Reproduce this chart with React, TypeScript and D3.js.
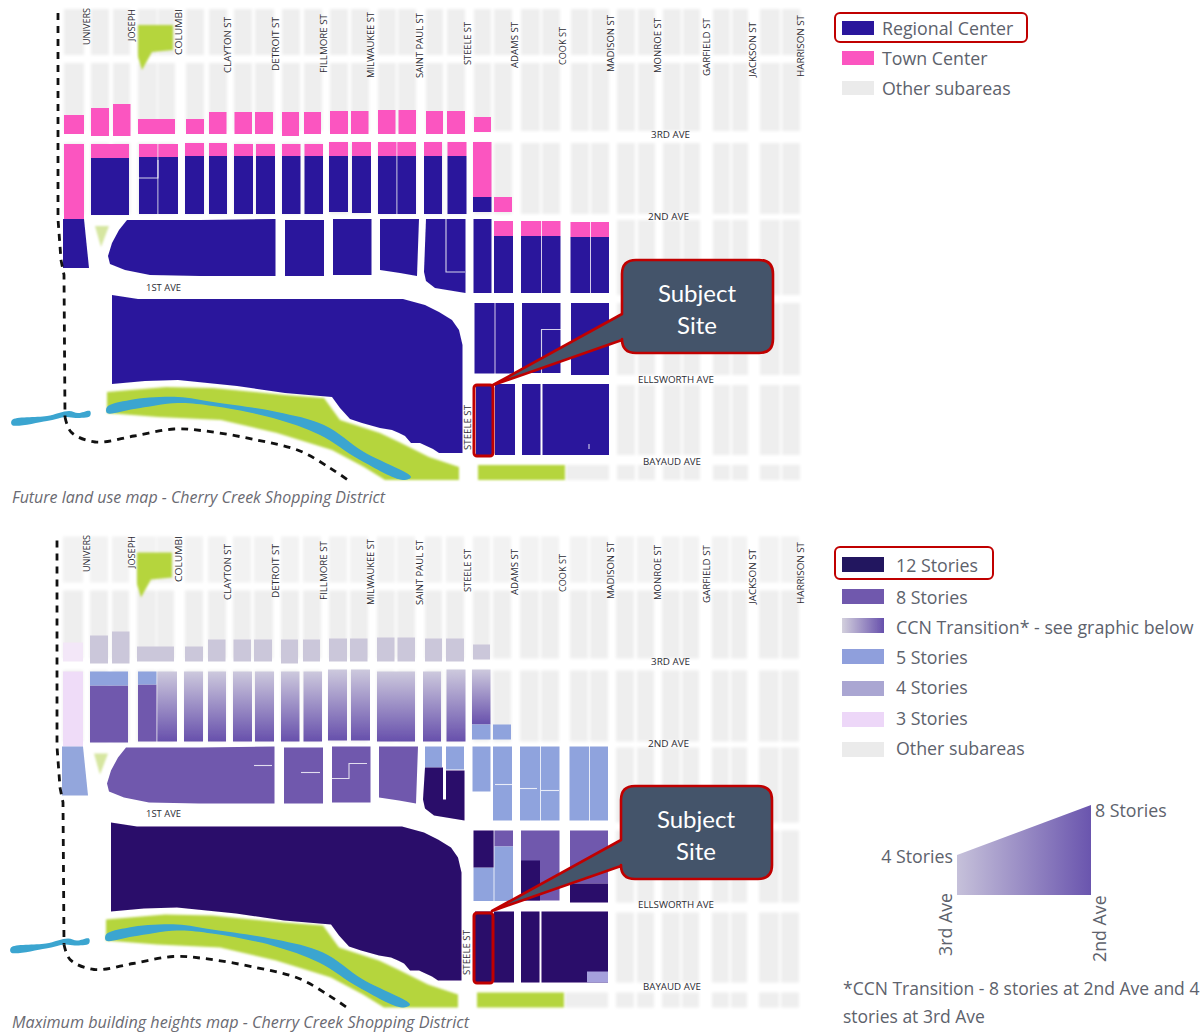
import React from "react";
import * as d3 from "d3";

type Lot = [number, number, number, number];
type Pt = [number, number];

// ---- Map geometry, in map units of the upper panel ----
const grayColumns: [number, number][] = [[64,84],[91,109],[113,130],[138,157],[158,175],[186,204],[209,227],[234,252],[255,274],[282,300],[304,322],[330,348],[351,369],[378,396],[398,416],[426,443],[447,465],[474,491],[494,512],[521,540],[542,560],[571,589],[591,609],[617,635],[638,655],[663,681],[683,700],[713,730],[732,748],[760,780],[782,800]];
const grayRowsAll: [number, number][] = [[9,55],[63,131],[143,214]];
const grayRowsEast: [number, number][] = [[220,295],[303,375],[385,455],[465,480]];
const graySouthExtra: Lot[] = [[566,609,465,480]];

const thirdAveLots: Lot[] = [[64,84,115,134],[91,109,108,136],[113,130.5,104,136],[138,175,119,134],[186,204,119,134],[209,226.5,112,134],[234.5,252,112,134],[255,273,112,134],[282,299,112,136],[304,321,112,134],[330,348,111,134],[351,368.5,111,134],[378,395.5,110,134],[398.5,416,110,134],[426,443,111,134],[447,465,111,134],[474,491,117,132]];
const townCaps: Lot[] = [[64,84,144,219],[91,129,144,158],[139,157.5,144,157],[158.3,178,144,157],[185,204,143,156],[209,227,143,156],[234,253,144,156],[256,275,144,156],[282,300.5,144,156],[304.5,323,144,156],[329,348,142,156],[352,371,142,156],[378,396.5,142,156],[397.3,416,142,156],[424,442,142,156],[447.5,466.5,142,156],[473,491.5,142,197],[494,512,197,212],[494,513,221,236],[521,541,221,236],[541.8,560.5,221,236],[570.5,590,222,237],[590.8,609,222,237]];
const regionalLots: Lot[] = [[91,129,158,215],[139,157.5,157,214],[158.3,178,157,214],[185,204,156,214],[209,227,156,214],[234,253,156,214],[256,275,156,214],[282,300.5,156,214],[304.5,323,156,214],[329,348,156,212],[352,371,156,213],[378,396.5,156,214],[397.3,416,156,214],[424,442,156,214],[447.5,466.5,156,214],[473,491.5,197,212],[285,324,220,276],[333,371.5,219,275],[473.5,491.5,219,293],[494,513,236,293],[521,541,236,293],[541.8,560.5,236,293],[570.5,590,237,293],[590.8,609,237,293],[474.5,494.6,303,373.5],[495.4,514,303,373.5],[522,560.5,303,373],[571,609,303,375],[476,493,384,455],[495,515,384,455],[522,540.5,384,455],[542.5,609,384,455]];

const westEdgeBlock: Pt[] = [[63,219],[84,219],[89,268],[63,268]];
const firstAveBlock: Pt[] = [[127,220],[200,220],[275.5,219],[275.5,276],[200,276],[150,275],[125,270],[110,264],[108,256],[112,243],[119,230]];
const saintPaulBlock: Pt[] = [[380,219],[419,219],[417,276],[400,273],[380,270]];
const steeleCornerBlock: Pt[] = [[426,219],[465.5,219],[465.5,293],[435,288],[426,281],[424,272]];
const creekBlock: Pt[] = [[112,295],[138,299],[403,299],[425,305],[439,312],[452,320],[459,330],[462.5,345],[462.5,453],[439,453],[433,449],[420,443],[411,443],[405,436],[399,433],[392,430],[380,428],[362,423],[350,419],[340,408],[332,397],[285,393],[237,386],[178,380],[145,381],[112,384]];
const parkNorth: Pt[] = [[138,25],[173,25],[173,50],[152,52],[142,70],[138,57]];
const parkTriangle: Pt[] = [[95,226],[109,226],[101,247]];
const creekCorridor: Pt[] = [[107,392],[166,387],[213,388],[285,395],[324,398],[340,420],[380,433],[399,442],[429,457],[459,467],[459,480],[385,480],[364,467],[332,450],[277,433],[221,420],[158,417],[107,413]];
const riverMain: Pt[] = [[107,407],[130,400],[178,397],[213,402],[277,412],[324,425],[364,452],[411,477],[403,480],[360,460],[320,435],[273,418],[213,406],[178,403],[134,409],[107,413]];
const riverWest: Pt[] = [[12,420],[47,416],[69,411],[78,413],[90,411],[90,416],[76,418],[66,417],[47,421],[12,425]];
const boundaryNorth: Pt[] = [[58,13],[58,219],[61,260],[64,275],[65,417]];
const boundarySouth: Pt[] = [[65,417],[71,432],[95,442],[134,436],[174,429],[205,431],[257,440],[300,451],[330,468],[348,480]];
const greenStrip: Lot = [478,565,465,480];

const whiteLinesUpper: Pt[][] = [[[138,178],[158,178],[158,160]],[[446,219],[446,272],[465,272]],[[541.5,373],[541.5,329.5],[561,329.5]],[[589,444],[589,449]]];

// Lower panel lots
const threeStoryLots: Lot[] = [[64,84,144,219]];
const threeStoryFaded: Lot[] = [[64,84,115,134]];
const fadedThirdLots: Lot[] = thirdAveLots.slice(1);
const ccnLots: Lot[] = [[158.3,178,144,214],[185,204,144,214],[209,227,144,214],[234,253,144,214],[256,275,144,214],[282,300.5,144,214],[304.5,323,144,214],[329,348,142,213],[352,371,142,213],[378,416,144,214],[424,442,144,214],[447.5,466.5,142,214],[473,491.5,142,197]];
const fiveStoryLots: Lot[] = [[91,129,144,158],[139,157.5,144,157],[473,491.5,197,212],[494,512,197,212],[426,443,219,240],[447,465,219,242],[473.5,491.5,219,264],[494,513,219,293],[521,541,219,293],[541.8,560.5,219,293],[570.5,590,219,293],[590.8,609,219,293],[474.5,494.6,340,373.5],[495.4,514,319,373.5]];
const eightStoryLots: Lot[] = [[91,129,158,215],[139,157.5,157,214],[285,324,220,276],[333,371.5,219,275],[495.4,514,303,319],[522,560.5,303,373],[571,609,303,356]];
const twelveStoryLots: Lot[] = [[474.5,494.6,303,340],[522,541,333,373],[571,609,356,375],[476,493,384,455],[495,515,384,455],[522,540.5,384,455],[542.5,609,384,455]];
const twelveCorner: Pt[] = [[426,240],[444,240],[444,272],[447,272],[447,243],[465.5,243],[465.5,293],[435,288],[426,281],[424,272]];
const fourStoryCorner: Lot[] = [[588,609,444,455]];
const fiveStoryWedge: Pt[] = westEdgeBlock;
const whiteLinesLower: Pt[][] = [[[255,238],[273,238]],[[302,245],[321,245]],[[332,251],[350,251],[350,236],[368,236]],[[496,257],[513,257]],[[521,261],[538,261]],[[542,263],[560,263]]];

// ---- Text ----
const streetNames = ["UNIVERS","JOSEPH","COLUMBI","CLAYTON ST","DETROIT ST","FILLMORE ST","MILWAUKEE ST","SAINT PAUL ST","STEELE ST","ADAMS ST","COOK ST","MADISON ST","MONROE ST","GARFIELD ST","JACKSON ST","HARRISON ST"];
const streetX = [90,135,182,231,279,327,374,423,471,518,566,614,661,710,756,804];
const streetBottom = [45,41,55,73,71,73,78,78,65,68,65,72,73,76,77,77];
const streetLength = [37,32,46,56,54,59,66,65,43,46,38,57,55,58,55,62];
const upperAves: [string, number, number, number][] = [["3RD AVE",651,138,39],["2ND AVE",648,220,41],["1ST AVE",146,291,35],["ELLSWORTH AVE",638,383,76],["BAYAUD AVE",643,465,58]];
const lowerAves: [string, number, number, number][] = [["3RD AVE",651,665,39],["2ND AVE",648,747,41],["1ST AVE",146,817,35],["ELLSWORTH AVE",638,908,76],["BAYAUD AVE",643,990,58]];

const upperLegend = ["Regional Center","Town Center","Other subareas"];
const upperLegendColors = ["#2b189c","#fb55c0","#ebebeb"];
const lowerLegend = ["12 Stories","8 Stories","CCN Transition* - see graphic below","5 Stories","4 Stories","3 Stories","Other subareas"];
const lowerLegendColors = ["#24125f","#6f58ad","url(#ccnH)","#8f9fdc","#aaa6d2","#edd7f8","#ebebeb"];
const upperCaption = "Future land use map - Cherry Creek Shopping District";
const lowerCaption = "Maximum building heights map - Cherry Creek Shopping District";
const footnote = ["*CCN Transition - 8 stories at 2nd Ave and 4","stories at 3rd Ave"];
const calloutWords = ["Subject","Site"];

const GREEN = "#b5d53e", RIVER = "#3aa5d0", GRAY = "#eeeeee", RED = "#c00000", TEXT = "#5d626c";
const SANS = "'Open Sans', sans-serif";

function Panel({ lower }: { lower: boolean }) {
  const x = d3.scaleLinear().domain([0, 1201]).range(lower ? [-1, 1200] : [0, 1201]);
  const y = d3.scaleLinear().domain([0, 1034]).range(lower ? [527.5, 1561.5] : [0, 1034]);
  const path = d3.line<Pt>().x((d) => x(d[0])).y((d) => y(d[1]));
  const open = d3.line<Pt>().x((d) => x(d[0])).y((d) => y(d[1])).curve(d3.curveCatmullRom.alpha(0.5));
  const closed = d3.line<Pt>().x((d) => x(d[0])).y((d) => y(d[1])).curve(d3.curveCatmullRomClosed.alpha(0.5));
  const rect = (l: Lot, fill: string, k: React.Key) => (
    <rect key={k} x={x(l[0])} y={y(l[2])} width={x(l[1]) - x(l[0])} height={y(l[3]) - y(l[2])} fill={fill} />
  );
  const grayLots: Lot[] = [];
  grayColumns.forEach((c) => {
    grayRowsAll.forEach((r) => grayLots.push([c[0], c[1], r[0], r[1]]));
    if (c[0] >= 617) grayRowsEast.forEach((r) => grayLots.push([c[0], c[1], r[0], r[1]]));
  });
  const poly = (p: Pt[], fill: string) => <path d={path(p) + "Z"} fill={fill} />;
  const lines = lower ? whiteLinesLower : whiteLinesUpper;
  return (
    <g>
      <g filter="url(#blurWide)">
        {grayLots.concat(graySouthExtra).map((l, i) => rect(l, lower && l[2] < 60 ? "#f2f2f2" : GRAY, i))}
      </g>
      <g filter="url(#blurGreen)">
        {poly(parkNorth, GREEN)}
        {poly(parkTriangle, "#d6e6a0")}
        {poly(creekCorridor, GREEN)}
        {rect(greenStrip, GREEN, "strip")}
      </g>
      <g filter="url(#blurFine)">
        <path d={closed(riverMain)!} fill={RIVER} />
        <path d={closed(riverWest)!} fill={RIVER} />
        {!lower ? (
          <g>
            {townCaps.concat(thirdAveLots).map((l, i) => rect(l, "#fb55c0", i))}
            {regionalLots.map((l, i) => rect(l, "#2b189c", "r" + i))}
            {poly(westEdgeBlock, "#2b189c")}
            {poly(firstAveBlock, "#2b189c")}
            {poly(saintPaulBlock, "#2b189c")}
            {poly(steeleCornerBlock, "#2b189c")}
            {poly(creekBlock, "#2b189c")}
          </g>
        ) : (
          <g>
            {fadedThirdLots.map((l, i) => rect(l, "#cbc7da", "f" + i))}
            {threeStoryFaded.map((l, i) => rect(l, "#f3e7f8", "g" + i))}
            {threeStoryLots.map((l, i) => rect(l, "#efdcf8", "t" + i))}
            {ccnLots.map((l, i) => rect(l, "url(#ccnV)", "c" + i))}
            {poly(fiveStoryWedge, "#93a6dc")}
            {poly(firstAveBlock, "#6f58ad")}
            {poly(saintPaulBlock, "#6f58ad")}
            {eightStoryLots.map((l, i) => rect(l, "#6f58ad", "e" + i))}
            {fiveStoryLots.map((l, i) => rect(l, "#8fa3dd", "v" + i))}
            {twelveStoryLots.map((l, i) => rect(l, "#2a0a6b", "w" + i))}
            {poly(twelveCorner, "#2a0a6b")}
            {poly(creekBlock, "#2a0a6b")}
            {fourStoryCorner.map((l, i) => rect(l, "#a5a0dc", "o" + i))}
          </g>
        )}
        {lines.map((p, i) => (
          <path key={i} d={path(p)!} fill="none" stroke="#fff" strokeOpacity={0.8} strokeWidth={1.1} />
        ))}
      </g>
      <path d={path(boundaryNorth)!} fill="none" stroke="#111" strokeWidth={2.8} strokeDasharray="7 6" />
      <path d={open(boundarySouth)!} fill="none" stroke="#111" strokeWidth={2.8} strokeDasharray="7 6" />
    </g>
  );
}

function Callout({ top, dx }: { top: number; dx: number }) {
  const bx = 622 + dx, w = 151, h = 93, r = 14;
  const lo = top + 80, hi = top + 54;
  const tip: Pt = [493 + dx, top + 125];
  const d = `M${bx + r},${top} H${bx + w - r} Q${bx + w},${top} ${bx + w},${top + r} V${top + h - r} Q${bx + w},${top + h} ${bx + w - r},${top + h} H${bx + r} Q${bx},${top + h} ${bx},${top + h - r} V${lo} L${tip[0]},${tip[1]} L${bx},${hi} V${top + r} Q${bx},${top} ${bx + r},${top} Z`;
  return (
    <g>
      <path d={d} fill="#44546a" stroke={RED} strokeWidth={2.6} strokeLinejoin="round" />
      {calloutWords.map((t, i) => (
        <text key={t} x={bx + 75} y={top + 42 + i * 32} textAnchor="middle" fill="#fff" fontFamily="Lato, sans-serif" fontSize={24}>{t}</text>
      ))}
    </g>
  );
}

function StreetLabels({ dy, dx }: { dy: number; dx: number }) {
  return (
    <g fontFamily="'Liberation Sans Narrow', 'Open Sans', sans-serif" fontSize={9} fill="#2c2c34">
      {streetNames.map((n, i) => (
        <text key={n} transform={`translate(${streetX[i] + dx},${streetBottom[i] + dy}) rotate(-90)`} textLength={streetLength[i]} lengthAdjust="spacingAndGlyphs">{n}</text>
      ))}
    </g>
  );
}

export default function App() {
  const legendText = { fontFamily: SANS, fontSize: 17.8, fill: TEXT } as const;
  const upperY = [35, 65, 95];
  const upperSw = [21, 51, 81];
  const lowerY = [572, 604, 634, 664, 694, 725, 755];
  const lowerSw = [557, 589, 618, 649, 681, 712, 742];
  return (
    <svg width={1201} height={1034} viewBox="0 0 1201 1034" style={{ position: "absolute", left: 0, top: 0, display: "block" }}>
      <defs>
        <filter id="blurWide" filterUnits="userSpaceOnUse" x="0" y="0" width="1201" height="1034"><feGaussianBlur stdDeviation="1.5" /></filter>
        <filter id="blurGreen" filterUnits="userSpaceOnUse" x="0" y="0" width="1201" height="1034"><feGaussianBlur stdDeviation="1.1" /></filter>
        <filter id="blurFine" filterUnits="userSpaceOnUse" x="0" y="0" width="1201" height="1034"><feGaussianBlur stdDeviation="0.55" /></filter>
        <linearGradient id="ccnV" x1="0" y1="0" x2="0" y2="1">
          <stop offset="0" stopColor="#cdc9dd" />
          <stop offset="1" stopColor="#6750ac" />
        </linearGradient>
        <linearGradient id="ccnH" x1="0" y1="0" x2="1" y2="0">
          <stop offset="0" stopColor="#d3d0dd" />
          <stop offset="1" stopColor="#6750ac" />
        </linearGradient>
        <linearGradient id="ccnTri" x1="0" y1="0" x2="1" y2="0">
          <stop offset="0" stopColor="#c6c1da" />
          <stop offset="1" stopColor="#6a55ae" />
        </linearGradient>
      </defs>

      <Panel lower={false} />
      <Panel lower={true} />

      <StreetLabels dy={0} dx={0} />
      <StreetLabels dy={527} dx={0} />
      <g fontFamily="'Liberation Sans Narrow', 'Open Sans', sans-serif" fontSize={9} fill="#2c2c34">
        {upperAves.concat(lowerAves).map(([t, ax, ay, len], i) => (
          <text key={i} x={ax} y={ay} textLength={len} lengthAdjust="spacingAndGlyphs">{t}</text>
        ))}
        <text transform="translate(471,450) rotate(-90)" textLength={45} lengthAdjust="spacingAndGlyphs">STEELE ST</text>
        <text transform="translate(470,975) rotate(-90)" textLength={45} lengthAdjust="spacingAndGlyphs">STEELE ST</text>
      </g>

      <text x={12} y={503} fontFamily={SANS} fontStyle="italic" fontSize={15.5} fill="#6a6a72" textLength={373} lengthAdjust="spacingAndGlyphs">{upperCaption}</text>
      <text x={12} y={1028} fontFamily={SANS} fontStyle="italic" fontSize={15.5} fill="#6a6a72" textLength={457} lengthAdjust="spacingAndGlyphs">{lowerCaption}</text>

      {/* subject site frames */}
      <rect x={474} y={385} width={19} height={71} rx={3} fill="none" stroke={RED} strokeWidth={3} />
      <rect x={474} y={913} width={19} height={70} rx={3} fill="none" stroke={RED} strokeWidth={3} />
      <Callout top={260} dx={0} />
      <Callout top={786} dx={-1} />

      {/* legend swatches */}
      <g filter="url(#blurFine)">
        {upperLegendColors.map((c, i) => <rect key={i} x={842} y={upperSw[i]} width={32} height={14} fill={c} />)}
        {lowerLegendColors.map((c, i) => <rect key={i} x={842} y={lowerSw[i]} width={42} height={15} fill={c} />)}
      </g>
      <rect x={835} y={13} width={192} height={29} rx={5} fill="none" stroke={RED} strokeWidth={2} />
      {upperLegend.map((t, i) => <text key={t} x={882} y={upperY[i]} {...legendText}>{t}</text>)}

      <rect x={835} y={547} width={158} height={32} rx={5} fill="none" stroke={RED} strokeWidth={2} />
      {lowerLegend.map((t, i) => <text key={t} x={896} y={lowerY[i]} {...legendText}>{t}</text>)}

      {/* transition graphic */}
      <path d="M957,855 L1091,805 V895 H957 Z" fill="url(#ccnTri)" />
      <text x={1095} y={817} {...legendText}>8 Stories</text>
      <text x={953} y={863} textAnchor="end" {...legendText}>4 Stories</text>
      <text transform="translate(952,956) rotate(-90)" {...legendText}>3rd Ave</text>
      <text transform="translate(1106,962) rotate(-90)" {...legendText}>2nd Ave</text>
      {footnote.map((t, i) => <text key={t} x={843} y={995 + i * 28} {...legendText} fontSize={17.5}>{t}</text>)}
    </svg>
  );
}
